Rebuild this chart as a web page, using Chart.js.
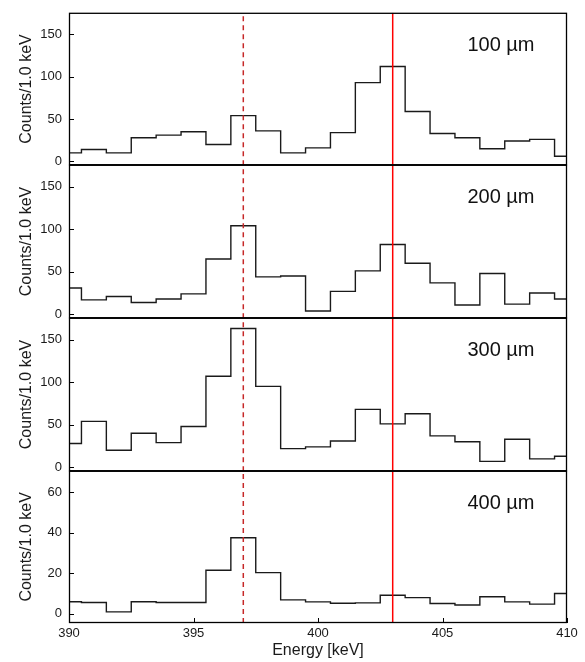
<!DOCTYPE html>
<html>
<head>
<meta charset="utf-8">
<script src="https://cdn.jsdelivr.net/npm/chart.js@4"></script>
<style>
  body { margin: 0; background: #fff; }
  #wrap { position: relative; width: 585px; height: 662px; overflow: hidden; }
  canvas { position: absolute; left: 0; }
</style>
</head>
<body>
<div id="wrap"></div>
<script>
// bin centres, 1 keV wide
const energies = [390, 391, 392, 393, 394, 395, 396, 397, 398, 399, 400, 401, 402, 403, 404, 405, 406, 407, 408, 409, 410];

const counts100 = [10, 14, 10, 28, 31, 35, 20, 54, 36, 10, 16, 34, 93, 112, 59, 33, 28, 15, 24, 26, 6];
const counts200 = [31, 17, 21, 14, 18, 24, 65, 104, 44, 45, 4, 27, 51, 82, 60, 37, 11, 48, 12, 25, 18];
const counts300 = [28, 54, 20, 40, 29, 48, 107, 163, 95, 22, 24, 31, 68, 51, 63, 37, 30, 7, 33, 10, 13];
const counts400 = [6, 5.6, 1, 6, 5.6, 5.6, 21.5, 37.5, 20.3, 6.9, 5.9, 5.2, 5.4, 9.2, 8, 5.1, 4.4, 8.4, 5.9, 4.8, 10];

const panelLabels = ['100 µm', '200 µm', '300 µm', '400 µm'];
const yTicksBig = [0, 50, 100, 150];
const yTicksSmall = [0, 20, 40, 60];
const xTicks = [390, 395, 400, 405, 410];
const dashedLineE = 397;
const solidLineE = 403;

const FONT = '"Liberation Sans", Arial, sans-serif';

const panels = [
    {label: panelLabels[0], counts: counts100, top: 13, bottom: 165, yMin: -4.5, yMax: 175.5, yTicks: yTicksBig},
    {label: panelLabels[1], counts: counts200, top: 165, bottom: 318, yMin: -4.5, yMax: 175.5, yTicks: yTicksBig},
    {label: panelLabels[2], counts: counts300, top: 318, bottom: 471, yMin: -4.5, yMax: 175.5, yTicks: yTicksBig},
    {label: panelLabels[3], counts: counts400, top: 471, bottom: 623, yMin: -4.5, yMax: 70.5, yTicks: yTicksSmall, showX: true}
];

// frame, inward ticks and the thickness label
const framePlugin = {
    id: 'frame',
    afterDraw(chart, args, opts) {
        const {ctx, chartArea: a, scales} = chart;
        ctx.save();
        ctx.strokeStyle = '#000';
        ctx.lineWidth = 1.3;
        ctx.strokeRect(a.left + 0.5, a.top + 0.5, a.right - a.left - 1, a.bottom - a.top - 1);

        ctx.lineWidth = 1;
        ctx.beginPath();
        scales.y.ticks.forEach(t => {
            const y = Math.round(scales.y.getPixelForValue(t.value)) + 0.5;
            ctx.moveTo(a.left, y);
            ctx.lineTo(a.left + 5, y);
        });
        if (opts.xTicks) {
            scales.x.ticks.forEach(t => {
                const x = Math.round(scales.x.getPixelForValue(t.value)) + 0.5;
                ctx.moveTo(x, a.bottom);
                ctx.lineTo(x, a.bottom - 5);
            });
        }
        ctx.stroke();

        ctx.fillStyle = '#111';
        ctx.font = '20px ' + FONT;
        ctx.textBaseline = 'middle';
        ctx.textAlign = 'left';
        ctx.fillText(opts.label, scales.x.getPixelForValue(406), a.top + 33);
        ctx.restore();
    }
};

const wrap = document.getElementById('wrap');
const xAxisH = 39;

function makeChart(canvas, p) {
    const vline = (e, color, dash) => ({
        data: [{x: e, y: p.yMin}, {x: e, y: p.yMax}],
        borderColor: color,
        borderWidth: 1.5,
        borderDash: dash,
        pointRadius: 0
    });

    return new Chart(canvas, {
        type: 'line',
        data: {
            datasets: [
                vline(solidLineE, '#ff0000', []),
                vline(dashedLineE, '#c62828', [5, 4]),
                {
                    data: energies.map((e, i) => ({x: e, y: p.counts[i]})),
                    stepped: 'middle',
                    borderColor: '#1a1a1a',
                    borderWidth: 1.4,
                    pointRadius: 0,
                    fill: false
                }
            ]
        },
        options: {
            responsive: false,
            maintainAspectRatio: false,
            animation: false,
            devicePixelRatio: 1,
            layout: {padding: {top: 0, bottom: 0, left: 0, right: 18}},
            plugins: {
                legend: {display: false},
                tooltip: {enabled: false},
                frame: {label: p.label, xTicks: !!p.showX}
            },
            scales: {
                x: {
                    type: 'linear',
                    min: 390,
                    max: 410,
                    display: !!p.showX,
                    grid: {display: false, drawTicks: false},
                    border: {display: false},
                    afterBuildTicks: s => { s.ticks = xTicks.map(v => ({value: v})); },
                    afterFit: s => { if (p.showX) s.height = xAxisH; },
                    ticks: {padding: 3, color: '#1a1a1a', font: {family: FONT, size: 13}},
                    title: {
                        display: true,
                        text: 'Energy [keV]',
                        color: '#1a1a1a',
                        font: {family: FONT, size: 16},
                        padding: {top: 0, bottom: 2}
                    }
                },
                y: {
                    min: p.yMin,
                    max: p.yMax,
                    grid: {display: false, drawTicks: false},
                    border: {display: false},
                    afterBuildTicks: s => { s.ticks = p.yTicks.map(v => ({value: v})); },
                    afterFit: s => { s.width = 69; },
                    ticks: {padding: 7, color: '#1a1a1a', font: {family: FONT, size: 13}},
                    title: {
                        display: true,
                        text: 'Counts/1.0 keV',
                        color: '#1a1a1a',
                        font: {family: FONT, size: 16},
                        padding: {top: 17, bottom: 0}
                    }
                }
            }
        },
        plugins: [framePlugin]
    });
}

panels.forEach(p => {
    const h = p.bottom - p.top;
    const canvas = document.createElement('canvas');
    canvas.width = 585;
    canvas.height = h + 60;
    wrap.appendChild(canvas);

    // first pass only to learn how much room the axes take
    let chart = makeChart(canvas, p);
    const topOff = chart.chartArea.top;
    const botOff = canvas.height - chart.chartArea.bottom;
    chart.destroy();

    canvas.width = 585;
    canvas.height = Math.round(topOff + h + botOff);
    canvas.style.width = '585px';
    canvas.style.height = canvas.height + 'px';
    canvas.style.top = (p.top - topOff) + 'px';
    makeChart(canvas, p);
});
</script>
</body>
</html>
